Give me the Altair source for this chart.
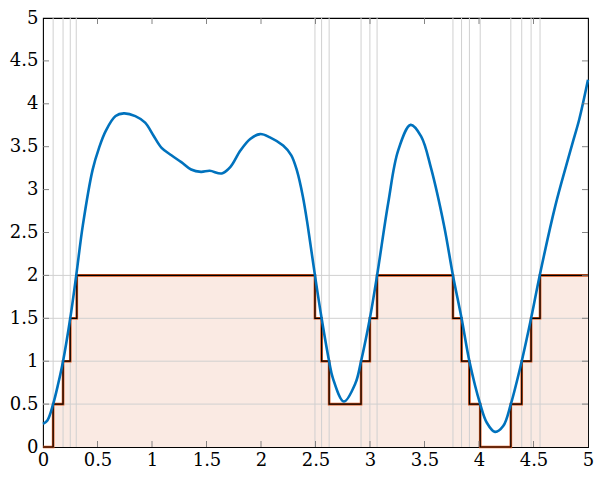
import altair as alt
import pandas as pd

# Blue curve
curve_x = [0, 0.04, 0.093, 0.14, 0.184, 0.25, 0.305, 0.365, 0.455, 0.515, 0.576, 0.666, 0.741,
           0.847, 0.937, 1.013, 1.088, 1.178, 1.269, 1.359, 1.45, 1.53, 1.64, 1.72, 1.811, 1.901,
           1.992, 2.082, 2.203, 2.278, 2.33, 2.384, 2.429, 2.495, 2.556, 2.625, 2.66, 2.76, 2.866,
           2.918, 2.999, 3.065, 3.167, 3.258, 3.373, 3.469, 3.56, 3.68, 3.761, 3.84, 3.912, 4.011,
           4.072, 4.147, 4.222, 4.292, 4.392, 4.478, 4.557, 4.70, 4.80, 4.86, 4.92, 5.0]
curve_y = [0.27, 0.31, 0.5, 0.74, 1.0, 1.5, 2.0, 2.58, 3.23, 3.49, 3.685, 3.857, 3.888,
           3.857, 3.78, 3.63, 3.486, 3.40, 3.32, 3.234, 3.207, 3.219, 3.188, 3.265, 3.455, 3.59,
           3.647, 3.609, 3.513, 3.40, 3.22, 2.92, 2.577, 2.0, 1.5, 1.0, 0.80, 0.53, 0.742,
           1.0, 1.5, 2.0, 2.844, 3.455, 3.754, 3.62, 3.25, 2.577, 2.0, 1.5, 1.0, 0.5,
           0.283, 0.176, 0.244, 0.5, 1.0, 1.5, 2.0, 2.81, 3.28, 3.55, 3.82, 4.28]

# Quantized step series
step_x = [0, 0.093, 0.184, 0.250, 0.310, 2.495, 2.556, 2.625, 2.918, 2.999, 3.065,
          3.761, 3.840, 3.912, 4.011, 4.292, 4.392, 4.478, 4.560, 5.0]
step_y = [0, 0.5, 1, 1.5, 2, 1.5, 1, 0.5, 1, 1.5, 2,
          1.5, 1, 0.5, 0, 0.5, 1, 1.5, 2, 2]

# Grid lines
vgrid_x = [0.093, 0.184, 0.250, 0.305, 2.495, 2.556, 2.625, 2.918, 2.999, 3.065,
           3.761, 3.840, 3.912, 4.011, 4.292, 4.392, 4.478, 4.560]
hgrid_y = [0.5, 1, 1.5, 2]

tick_vals = [0, 0.5, 1, 1.5, 2, 2.5, 3, 3.5, 4, 4.5, 5]
inner_ticks = [0.5, 1, 1.5, 2, 2.5, 3, 3.5, 4, 4.5]

W, H = 545, 429
FONT = "DejaVu Serif"
FS = 18

xs = alt.Scale(domain=[0, 5], nice=False, zero=False)
ys = alt.Scale(domain=[0, 5], nice=False, zero=False)

xaxis = alt.Axis(values=tick_vals, format="~g", ticks=False, domain=False, grid=False,
                 title=None, labelPadding=4, labelFlush=False, labelOverlap=False,
                 labelFont=FONT, labelFontSize=FS, labelColor="black")
yaxis = alt.Axis(values=tick_vals, format="~g", ticks=False, domain=False, grid=False,
                 title=None, labelPadding=5, labelFlush=False, labelOverlap=False,
                 labelFont=FONT, labelFontSize=FS, labelColor="black")

X = alt.X("x:Q", scale=xs, axis=xaxis)
Y = alt.Y("y:Q", scale=ys, axis=yaxis)

curve_df = pd.DataFrame({"x": curve_x, "y": curve_y})
step_df = pd.DataFrame({"x": step_x, "y": step_y})
vg_df = pd.DataFrame({"x": vgrid_x})
hg_df = pd.DataFrame({"y": hgrid_y})
tk_df = pd.DataFrame({"x": inner_ticks, "y": inner_ticks})

area = alt.Chart(step_df).mark_area(interpolate="step-after", color="#FAEAE3").encode(x=X, y=Y)

GC = "#d0d0d0"
vgrid = alt.Chart(vg_df).mark_rule(color=GC, strokeWidth=1).encode(
    x=X, y=alt.value(0), y2=alt.value(H))
hgrid = alt.Chart(hg_df).mark_rule(color=GC, strokeWidth=1).encode(
    y=Y, x=alt.value(0), x2=alt.value(W))

step_outline = alt.Chart(step_df).mark_line(interpolate="step-after", color="#D95319",
                                            strokeWidth=2.6).encode(x=X, y=Y)
step_line = alt.Chart(step_df).mark_line(interpolate="step-after", color="#000000",
                                         strokeWidth=1.2).encode(x=X, y=Y)

curve = alt.Chart(curve_df).mark_line(interpolate="catmull-rom", color="#0072BD",
                                      strokeWidth=2.6).encode(x=X, y=Y)

TC = "#777777"
left_ticks = alt.Chart(tk_df).mark_rule(color=TC, strokeWidth=0.9).encode(
    y=Y, x=alt.value(0), x2=alt.value(6))
right_ticks = alt.Chart(tk_df).mark_rule(color=TC, strokeWidth=0.9).encode(
    y=Y, x=alt.value(W - 6), x2=alt.value(W))
bottom_ticks = alt.Chart(tk_df).mark_rule(color=TC, strokeWidth=0.9).encode(
    x=X, y=alt.value(H - 6), y2=alt.value(H))
top_ticks = alt.Chart(tk_df).mark_rule(color=TC, strokeWidth=0.9).encode(
    x=X, y=alt.value(0), y2=alt.value(6))

chart = alt.layer(
    area, vgrid, hgrid, step_outline, step_line, curve,
    left_ticks, right_ticks, bottom_ticks, top_ticks
).properties(
    width=W, height=H,
    autosize=alt.AutoSizeParams(type="none"),
    padding={"left": 35, "top": 10, "right": 6, "bottom": 22},
    background="white",
).configure_view(stroke="black", strokeWidth=1.1).configure_axis(
    labelFont=FONT, labelFontSize=FS, labelColor="black"
)

chart.save("out.html", embed_options={"renderer": "svg", "actions": False})
